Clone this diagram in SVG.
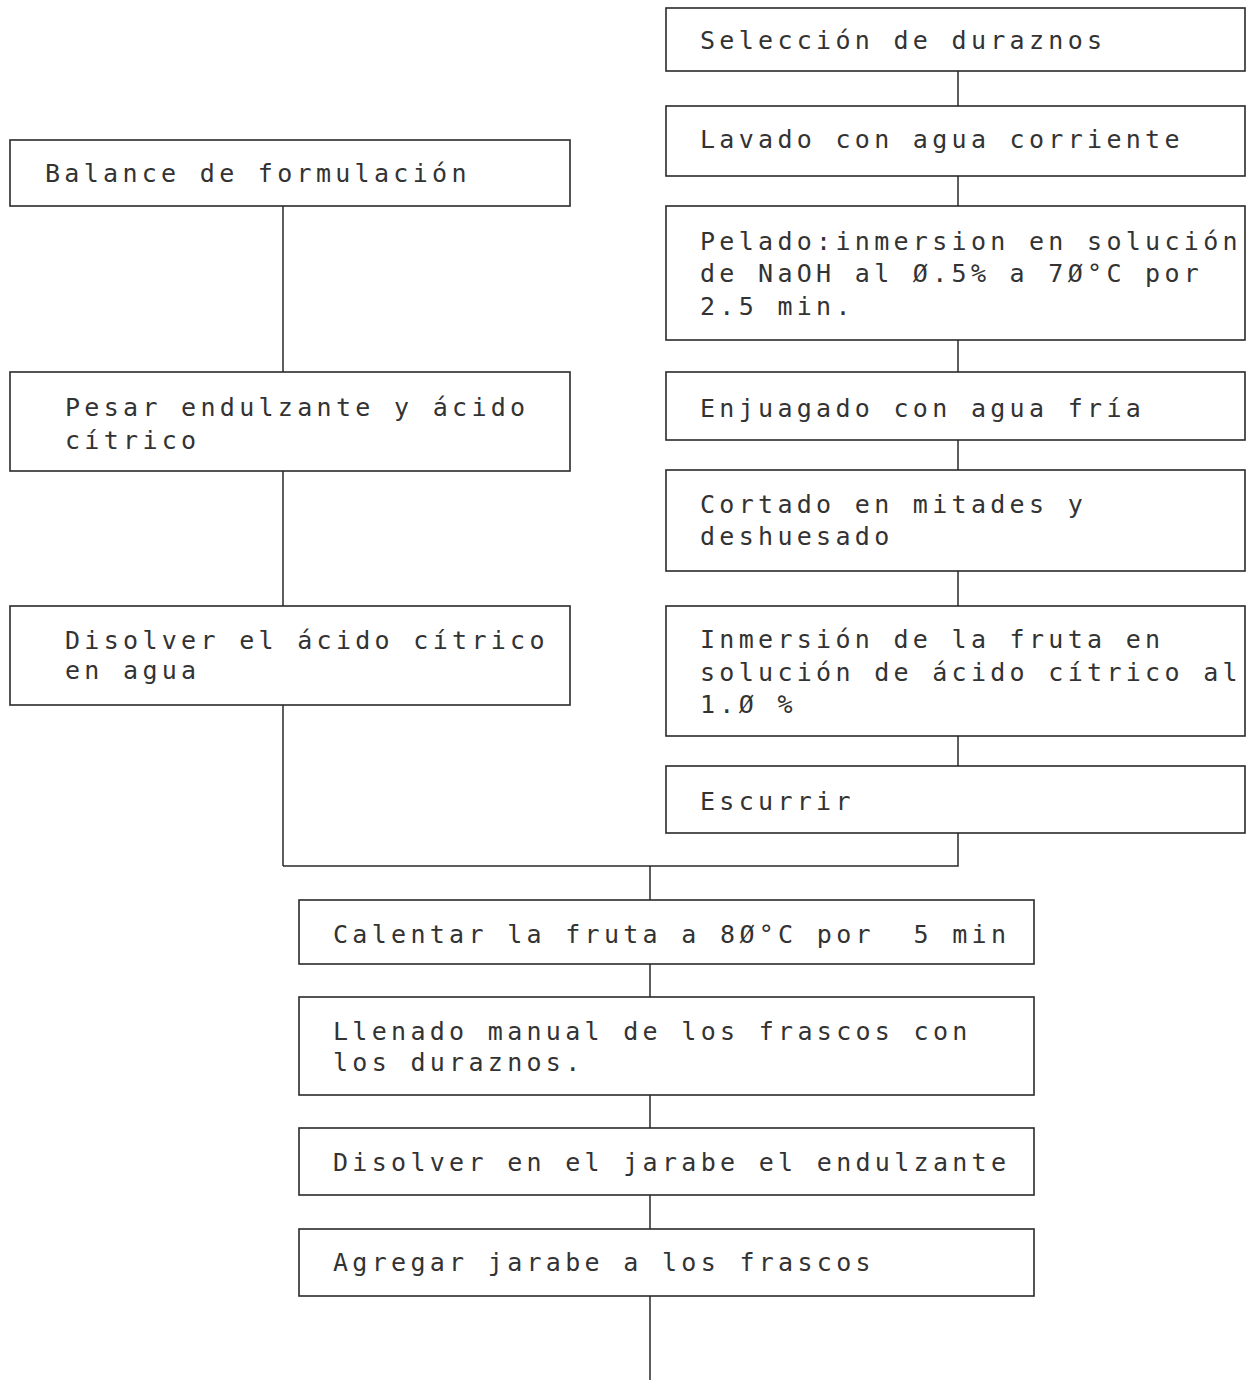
<svg xmlns="http://www.w3.org/2000/svg" width="1253" height="1380" viewBox="0 0 1253 1380">
<style>
.box{fill:#fff;stroke:#2a2a2a;stroke-width:1.6}
.t{font-family:"DejaVu Sans Mono","Liberation Mono",monospace;font-size:25px;letter-spacing:4.3px;fill:#333;white-space:pre}
.c{fill:none;stroke:#2a2a2a;stroke-width:1.5}
</style>
<rect width="1253" height="1380" fill="#fff"/>
<g id="connectors">
<path class="c" d="M958 71V106M958 176V206M958 340V372M958 440V470M958 571V606M958 736V766M958 833V866H283M283 206V372M283 471V606M283 705V866M650 866V900M650 964V997M650 1095V1128M650 1195V1229M650 1296V1380"/>
</g>
<g id="n1"><rect class="box" x="666" y="8" width="579" height="63"/><text class="t" x="700" y="49">Selección de duraznos</text></g>
<g id="n2"><rect class="box" x="666" y="106" width="579" height="70"/><text class="t" x="700" y="148">Lavado con agua corriente</text></g>
<g id="n3"><rect class="box" x="666" y="206" width="579" height="134"/><text class="t" x="700" y="250">Pelado:inmersion en solución</text><text class="t" x="700" y="282">de NaOH al Ø.5% a 7Ø°C por</text><text class="t" x="700" y="315">2.5 min.</text></g>
<g id="n4"><rect class="box" x="666" y="372" width="579" height="68"/><text class="t" x="700" y="417">Enjuagado con agua fría</text></g>
<g id="n5"><rect class="box" x="666" y="470" width="579" height="101"/><text class="t" x="700" y="513">Cortado en mitades y</text><text class="t" x="700" y="545">deshuesado</text></g>
<g id="n6"><rect class="box" x="666" y="606" width="579" height="130"/><text class="t" x="700" y="648">Inmersión de la fruta en</text><text class="t" x="700" y="681">solución de ácido cítrico al</text><text class="t" x="700" y="713">1.Ø %</text></g>
<g id="n7"><rect class="box" x="666" y="766" width="579" height="67"/><text class="t" x="700" y="810">Escurrir</text></g>
<g id="n8"><rect class="box" x="10" y="140" width="560" height="66"/><text class="t" x="45" y="182">Balance de formulación</text></g>
<g id="n9"><rect class="box" x="10" y="372" width="560" height="99"/><text class="t" x="65" y="416">Pesar endulzante y ácido</text><text class="t" x="65" y="449">cítrico</text></g>
<g id="n10"><rect class="box" x="10" y="606" width="560" height="99"/><text class="t" x="65" y="649">Disolver el ácido cítrico</text><text class="t" x="65" y="679">en agua</text></g>
<g id="n11"><rect class="box" x="299" y="900" width="735" height="64"/><text class="t" x="333" y="943" xml:space="preserve">Calentar la fruta a 8Ø°C por  5 min</text></g>
<g id="n12"><rect class="box" x="299" y="997" width="735" height="98"/><text class="t" x="333" y="1040">Llenado manual de los frascos con</text><text class="t" x="333" y="1071">los duraznos.</text></g>
<g id="n13"><rect class="box" x="299" y="1128" width="735" height="67"/><text class="t" x="333" y="1171">Disolver en el jarabe el endulzante</text></g>
<g id="n14"><rect class="box" x="299" y="1229" width="735" height="67"/><text class="t" x="333" y="1271">Agregar jarabe a los frascos</text></g>
</svg>
